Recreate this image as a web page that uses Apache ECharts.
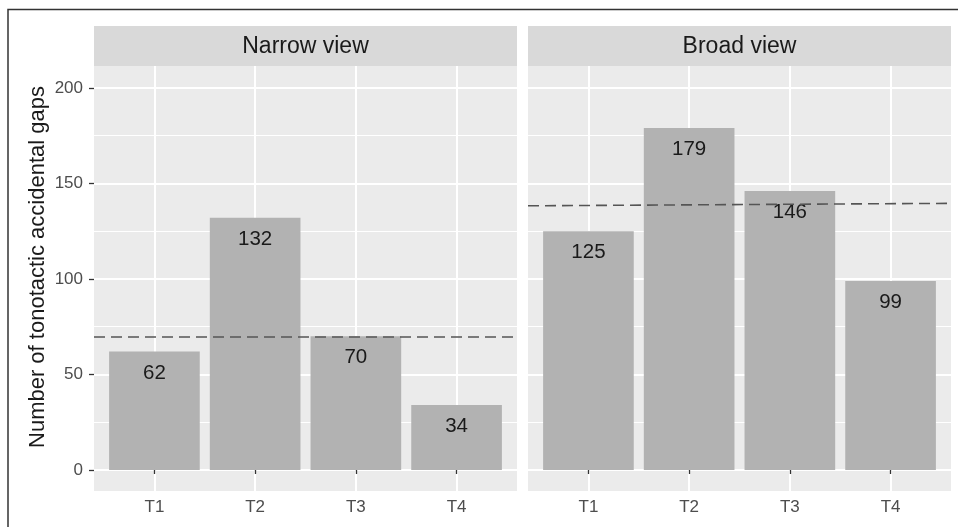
<!DOCTYPE html>
<html>
<head>
<meta charset="utf-8">
<script src="https://cdn.jsdelivr.net/npm/echarts@6/dist/echarts.min.js"></script>
<style>
  html, body { margin: 0; padding: 0; background: #fff; }
  #chart { width: 958px; height: 527px; }
</style>
</head>
<body>
<div id="chart"></div>
<script>
const categories = ["T1", "T2", "T3", "T4"];
const panels = ["Narrow view", "Broad view"];
const narrowValues = [62, 132, 70, 34];
const broadValues = [125, 179, 146, 99];
// dashed reference line, value at left and right edge of each panel
const narrowRef = [70, 70];
const broadRef = [138.3, 139.6];
const majorTicks = [0, 50, 100, 150, 200];
const minorTicks = [25, 75, 125, 175];

const xPos = categories.map((c, i) => i + 1);
const xMin = 0.4, xMax = 4.6;

const grids = [
  { left: 94, top: 66, width: 423, height: 425 },
  { left: 528, top: 66, width: 423, height: 425 },
];

const chart = echarts.init(document.getElementById("chart"));

const xAxes = grids.map((g, i) => ({
  type: "value",
  gridIndex: i,
  min: xMin,
  max: xMax,
  axisLine: { show: false },
  axisTick: { customValues: xPos, length: 4, lineStyle: { color: "#333", width: 1.3 } },
  axisLabel: {
    customValues: xPos,
    formatter: (v) => categories[Math.round(v) - 1],
    color: "#4d4d4d",
    fontSize: 17,
    fontFamily: "Liberation Sans",
    margin: 8,
  },
  splitLine: { show: true, lineStyle: { color: "#fff", width: 2 } },
}));

const yAxes = [];
grids.forEach((g, i) => {
  // major grid lines + labels
  yAxes.push({
    type: "value",
    gridIndex: i,
    min: -11,
    max: 211.5,
    axisLine: { show: false },
    axisTick: { show: i === 0, customValues: majorTicks, length: 5, lineStyle: { color: "#333", width: 1.3 } },
    axisLabel: {
      show: i === 0,
      customValues: majorTicks,
      color: "#4d4d4d",
      fontSize: 17,
      fontFamily: "Liberation Sans",
      margin: 11,
    },
    splitLine: { show: true, lineStyle: { color: "#fff", width: 2 } },
  });
  // minor grid lines
  yAxes.push({
    type: "value",
    gridIndex: i,
    position: "left",
    min: -11,
    max: 211.5,
    axisLine: { show: false },
    axisTick: { show: false, customValues: minorTicks },
    axisLabel: { show: false, customValues: minorTicks },
    splitLine: { show: true, lineStyle: { color: "#fff", width: 1 } },
  });
});

const makeSeries = (values, ref, i) => ({
  type: "bar",
  xAxisIndex: i,
  yAxisIndex: i * 2,
  data: values.map((v, k) => [xPos[k], v]),
  barWidth: "90%",
  itemStyle: { color: "#b2b2b2" },
  label: {
    show: true,
    position: "insideTop",
    distance: 11,
    color: "#1a1a1a",
    fontSize: 20.5,
    fontFamily: "Liberation Sans",
    formatter: (p) => p.value[1],
  },
  markLine: {
    silent: true,
    symbol: "none",
    label: { show: false },
    lineStyle: { color: "#555", type: [11, 6], width: 1.6 },
    data: [[{ coord: [xMin, ref[0]] }, { coord: [xMax, ref[1]] }]],
  },
});

const stripGraphics = [];
grids.forEach((g, i) => {
  stripGraphics.push({
    type: "rect",
    shape: { x: g.left, y: 26, width: g.width, height: 40 },
    style: { fill: "#d9d9d9" },
    silent: true,
  });
  stripGraphics.push({
    type: "text",
    x: g.left + g.width / 2,
    y: 47,
    style: {
      text: panels[i],
      align: "center",
      verticalAlign: "middle",
      fill: "#1a1a1a",
      font: "23px 'Liberation Sans'",
    },
    silent: true,
  });
});

chart.setOption({
  animation: false,
  backgroundColor: "#fff",
  grid: grids.map((g) => ({
    ...g,
    show: true,
    backgroundColor: "#ebebeb",
    borderWidth: 0,
    containLabel: false,
    outerBoundsMode: "none",
  })),
  xAxis: xAxes,
  yAxis: yAxes,
  series: [makeSeries(narrowValues, narrowRef, 0), makeSeries(broadValues, broadRef, 1)],
  graphic: [
    ...stripGraphics,
    {
      type: "text",
      x: 38,
      y: 267,
      rotation: Math.PI / 2,
      style: {
        text: "Number of tonotactic accidental gaps",
        align: "center",
        verticalAlign: "middle",
        fill: "#1a1a1a",
        font: "22px 'Liberation Sans'",
      },
      silent: true,
    },
    {
      type: "rect",
      shape: { x: 8, y: 9.5, width: 980, height: 560 },
      style: { fill: null, stroke: "#333", lineWidth: 1.5 },
      silent: true,
    },
  ],
});
</script>
</body>
</html>
